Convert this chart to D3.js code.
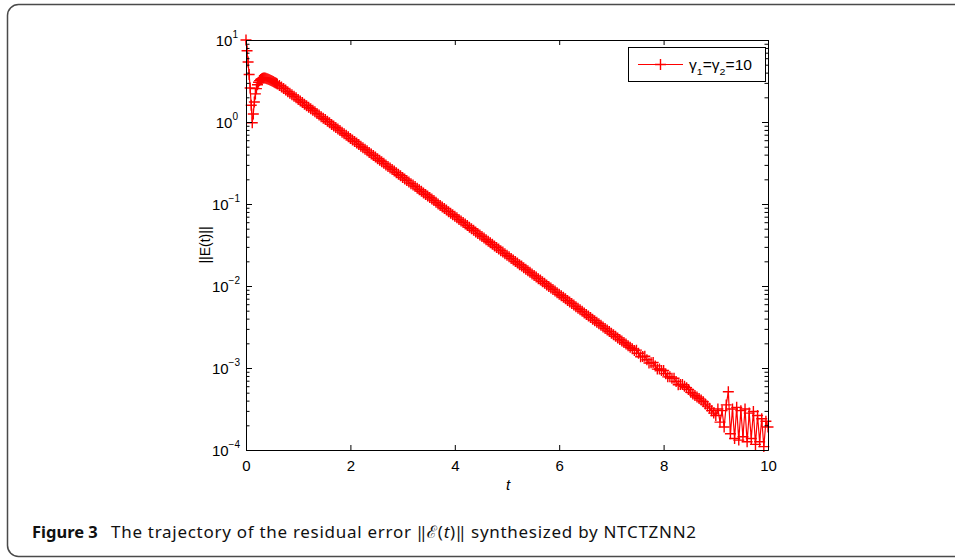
<!DOCTYPE html>
<html>
<head>
<meta charset="utf-8">
<script src="https://cdn.jsdelivr.net/npm/d3@7"></script>
<style>
  html, body { margin: 0; padding: 0; background: #fff; }
  svg { display: block; }
</style>
</head>
<body>
<svg id="fig" width="955" height="559"></svg>
<script>
// Residual error ||E(t)|| of NTCTZNN2 with gamma1 = gamma2 = 10.
// Early transient sampled every 0.02 s on [0, 0.6].
const earlyStep = 0.02;
const earlyResidual = [
  10.0, 7.4, 5.4, 3.8, 2.6, 1.6, 0.98, 1.25, 1.75, 2.2, 2.55, 2.85, 3.05, 3.2, 3.3,
  3.37, 3.42, 3.44, 3.43, 3.41, 3.38, 3.34, 3.30, 3.26, 3.21, 3.16, 3.11, 3.06, 3.01, 2.96, 2.90
];
// Remaining run sampled every 0.04 s on [0.64, 10].
const lateStart = 0.64;
const lateStep = 0.04;
const lateResidual = [
  2.79, 2.67, 2.56, 2.45, 2.34, 2.24, 2.15, 2.06, 1.97, 1.88,
  1.80, 1.73, 1.65, 1.58, 1.51, 1.45, 1.39, 1.33, 1.27, 1.22,
  1.16, 1.11, 1.07, 1.02, 0.977, 0.935, 0.895, 0.857, 0.820, 0.785,
  0.752, 0.719, 0.689, 0.659, 0.631, 0.604, 0.578, 0.553, 0.530, 0.507,
  0.485, 0.465, 0.445, 0.426, 0.407, 0.390, 0.373, 0.357, 0.342, 0.327,
  0.313, 0.300, 0.287, 0.275, 0.263, 0.252, 0.241, 0.231, 0.221, 0.211,
  0.202, 0.194, 0.185, 0.177, 0.170, 0.163, 0.156, 0.149, 0.143, 0.136,
  0.131, 0.125, 0.120, 0.115, 0.110, 0.105, 0.100, 0.0962, 0.0920, 0.0881,
  0.0843, 0.0807, 0.0773, 0.0740, 0.0708, 0.0678, 0.0649, 0.0621, 0.0594, 0.0569,
  0.0545, 0.0521, 0.0499, 0.0478, 0.0457, 0.0438, 0.0419, 0.0401, 0.0384, 0.0367,
  0.0352, 0.0337, 0.0322, 0.0308, 0.0295, 0.0282, 0.0270, 0.0259, 0.0248, 0.0237,
  0.0227, 0.0217, 0.0208, 0.0199, 0.0191, 0.0182, 0.0175, 0.0167, 0.0160, 0.0153,
  0.0147, 0.0140, 0.0134, 0.0129, 0.0123, 0.0118, 0.0113, 0.0108, 0.0103, 0.00989,
  0.00946, 0.00906, 0.00867, 0.00830, 0.00794, 0.00760, 0.00728, 0.00697, 0.00667, 0.00638,
  0.00611, 0.00585, 0.00560, 0.00536, 0.00513, 0.00491, 0.00470, 0.00450, 0.00431, 0.00412,
  0.00394, 0.00378, 0.00361, 0.00346, 0.00331, 0.00317, 0.00303, 0.00290, 0.00278, 0.00266,
  0.00255, 0.00244, 0.00233, 0.00223, 0.00214, 0.00205, 0.00196, 0.00187, 0.00179, 0.00172,
  0.00164, 0.00165, 0.00151, 0.00137, 0.00138, 0.00139, 0.00126, 0.00115, 0.00116, 0.00117,
  0.00106, 0.000970, 0.000973, 0.000931, 0.000935, 0.000853, 0.000780, 0.000782, 0.000748, 0.000750,
  0.000685, 0.000625, 0.000628, 0.000630, 0.000600, 0.000575, 0.000545, 0.000505, 0.000483, 0.000462,
  0.000443, 0.000424, 0.000406, 0.000388, 0.000363, 0.000343, 0.000324, 0.000302, 0.000282,
  0.000263, 0.000316, 0.000219, 0.000302, 0.000191, 0.000355, 0.000513, 0.000158, 0.000316, 0.000138,
  0.000331, 0.000132, 0.000302, 0.000145, 0.000316, 0.000126, 0.000282, 0.000138, 0.000295, 0.000117,
  0.000263, 0.000126, 0.000240, 0.000110, 0.000224, 0.000191
];

const xTicks = [0, 2, 4, 6, 8, 10];
const yExponents = [1, 0, -1, -2, -3, -4];
const legendLabel = ["γ", "1", "=γ", "2", "=10"];
const xLabel = "t";
const yLabel = "||E(t)||";

const series = earlyResidual.map((v, i) => ({ t: +(i * earlyStep).toFixed(2), v }))
  .concat(lateResidual.map((v, i) => ({ t: +(lateStart + i * lateStep).toFixed(2), v })));

const svg = d3.select("#fig");
const axisFont = "'Liberation Sans', Arial, Helvetica, sans-serif";
const captionFont = "'Noto Sans', 'Open Sans', sans-serif";

// Rounded figure frame
svg.append("rect")
  .attr("x", 7.5).attr("y", 4.5)
  .attr("width", 980).attr("height", 552)
  .attr("rx", 11).attr("ry", 11)
  .attr("fill", "none").attr("stroke", "#4a4a4a").attr("stroke-width", 1.5);

const x = d3.scaleLinear().domain([0, 10]).range([246, 768]);
const y = d3.scaleLog().domain([1e-4, 10]).range([450, 40]);

const plot = svg.append("g");

// Residual curve and its "+" markers
plot.append("path")
  .datum(series)
  .attr("fill", "none")
  .attr("stroke", "#ff0000")
  .attr("stroke-width", 1.2)
  .attr("d", d3.line().x(d => x(d.t)).y(d => y(d.v)));

const plusPath = "M-5.5,0H5.5M0,-5.5V5.5";
plot.append("g").selectAll("path")
  .data(series)
  .join("path")
  .attr("transform", d => `translate(${x(d.t)},${y(d.v)})`)
  .attr("d", plusPath)
  .attr("stroke", "#ff0000")
  .attr("stroke-width", 1.4)
  .attr("fill", "none");

// Axes box with inward ticks
const axisG = svg.append("g").attr("font-family", axisFont);

const axisB = axisG.append("g")
  .attr("transform", `translate(0,${y.range()[0]})`)
  .call(d3.axisBottom(x).tickValues(xTicks).tickSizeInner(-5).tickSizeOuter(0).tickPadding(10).tickFormat(d3.format("d")));
axisG.append("g")
  .attr("transform", `translate(0,${y.range()[1]})`)
  .call(d3.axisTop(x).tickValues(xTicks).tickSizeInner(-5).tickSizeOuter(0).tickFormat(""));

const majors = yExponents.map(e => Math.pow(10, e));
const minors = [];
yExponents.slice(1).forEach(e => {
  for (let m = 2; m <= 9; m++) minors.push(m * Math.pow(10, e));
});

axisG.append("g")
  .attr("transform", `translate(${x.range()[0]},0)`)
  .call(d3.axisLeft(y).tickValues(majors).tickSizeInner(-6).tickSizeOuter(0).tickFormat(""));
axisG.append("g")
  .attr("transform", `translate(${x.range()[0]},0)`)
  .call(d3.axisLeft(y).tickValues(minors).tickSizeInner(-3.5).tickSizeOuter(0).tickFormat(""));
axisG.append("g")
  .attr("transform", `translate(${x.range()[1]},0)`)
  .call(d3.axisRight(y).tickValues(majors).tickSizeInner(-6).tickSizeOuter(0).tickFormat(""));
axisG.append("g")
  .attr("transform", `translate(${x.range()[1]},0)`)
  .call(d3.axisRight(y).tickValues(minors).tickSizeInner(-3.5).tickSizeOuter(0).tickFormat(""));

axisG.selectAll(".domain").attr("stroke", "#000").attr("stroke-width", 1);
axisG.selectAll(".tick line").attr("stroke", "#000").attr("stroke-width", 1);
axisB.selectAll(".tick text")
  .attr("font-family", axisFont).attr("font-size", 15).attr("fill", "#000");

// Decade labels 10^n on the y axis
const yLab = axisG.append("g").attr("font-family", axisFont).attr("font-size", 15).attr("fill", "#000");
yExponents.forEach(e => {
  const t = yLab.append("text")
    .attr("x", e < 0 ? 240 : 238)
    .attr("y", y(Math.pow(10, e)) + 6)
    .attr("text-anchor", "end");
  t.append("tspan").text("10");
  t.append("tspan").attr("font-size", 10).attr("dy", -8)
    .text(e < 0 ? "\u2212" + Math.abs(e) : String(e));
});

// Axis titles
axisG.append("text")
  .attr("x", (x.range()[0] + x.range()[1]) / 2 + 1)
  .attr("y", 490)
  .attr("text-anchor", "middle")
  .attr("font-family", axisFont)
  .attr("font-size", 15)
  .attr("font-style", "italic")
  .text(xLabel);

axisG.append("text")
  .attr("transform", `translate(210,${(y.range()[0] + y.range()[1]) / 2}) rotate(-90)`)
  .attr("text-anchor", "middle")
  .attr("font-family", axisFont)
  .attr("font-size", 14)
  .text(yLabel);

// Legend
const leg = svg.append("g").attr("font-family", axisFont);
leg.append("rect")
  .attr("x", 628.5).attr("y", 47.5).attr("width", 137).attr("height", 34)
  .attr("fill", "#fff").attr("stroke", "#000").attr("stroke-width", 1);
leg.append("line")
  .attr("x1", 638).attr("x2", 683).attr("y1", 64.5).attr("y2", 64.5)
  .attr("stroke", "#ff0000").attr("stroke-width", 1.2);
leg.append("path")
  .attr("transform", "translate(660.5,64.5)")
  .attr("d", plusPath)
  .attr("stroke", "#ff0000").attr("stroke-width", 1.4).attr("fill", "none");
const legText = leg.append("text").attr("x", 689).attr("y", 70).attr("font-size", 14)
  .attr("textLength", 63).attr("lengthAdjust", "spacingAndGlyphs");
legendLabel.forEach((s, i) => {
  const sub = i === 1 || i === 3;
  legText.append("tspan")
    .attr("font-size", sub ? 9.5 : 14)
    .attr("dy", sub ? 5 : (i > 0 ? -5 : 0))
    .text(s);
});

// Caption
svg.append("text")
  .attr("x", 32).attr("y", 538)
  .attr("font-family", captionFont)
  .attr("font-size", 16.5)
  .attr("font-weight", "bold")
  .attr("fill", "#111")
  .text("Figure 3");
const cap = svg.append("text")
  .attr("x", 111).attr("y", 538)
  .attr("font-family", captionFont)
  .attr("font-size", 17)
  .attr("fill", "#111")
  .attr("textLength", 585)
  .attr("lengthAdjust", "spacing");
cap.append("tspan").text("The trajectory of the residual error \u2016");
cap.append("tspan").attr("font-style", "italic").text("\u2130");
cap.append("tspan").text("(");
cap.append("tspan").attr("font-style", "italic").text("t");
cap.append("tspan").text(")\u2016 synthesized by NTCTZNN2");
</script>
</body>
</html>
